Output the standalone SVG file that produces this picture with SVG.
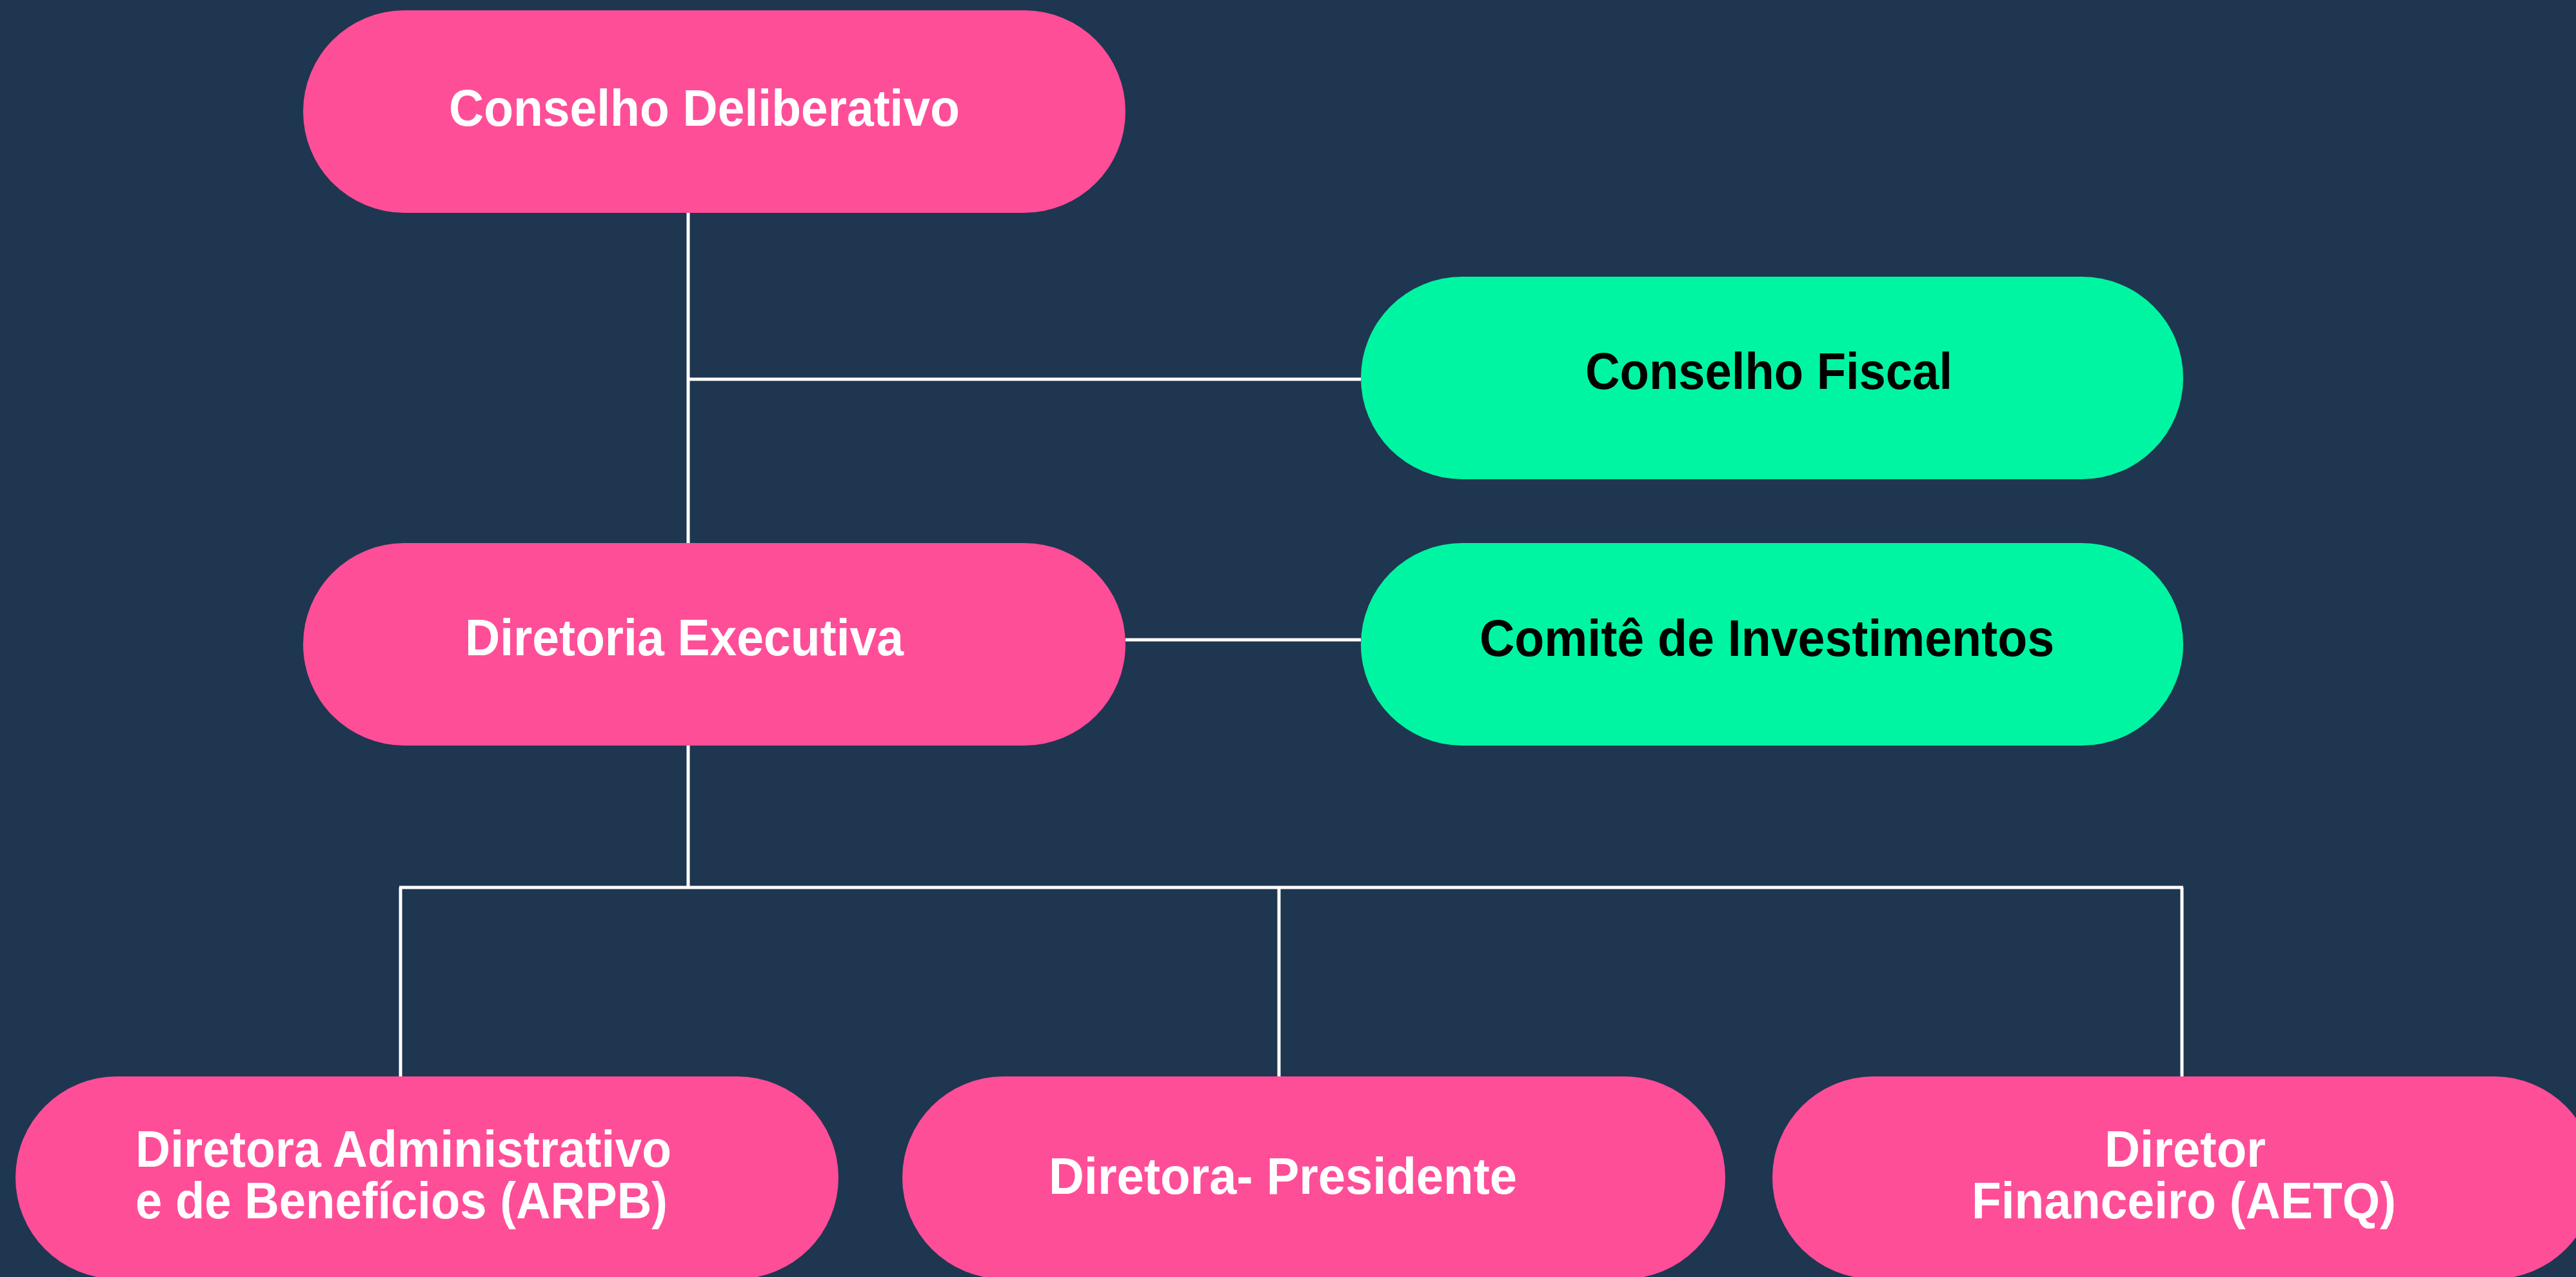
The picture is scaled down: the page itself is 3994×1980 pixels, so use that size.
<svg xmlns="http://www.w3.org/2000/svg" width="3994" height="1980" viewBox="0 0 3994 1980">
<style>
.pink{fill:#FF4E98}
.green{fill:#00F5A3}
.t{font-family:"Liberation Sans",Arial,sans-serif;font-weight:bold;font-size:80px}
.w{fill:#FFFFFF}
.k{fill:#000000}
.conn line{stroke:#FFFFFF;stroke-width:5;fill:none}
</style>
<rect x="0" y="0" width="3994" height="1980" fill="#1F3650"/>
<g id="connectors" class="conn">
<line x1="1067" y1="330" x2="1067" y2="842"/>
<line x1="1067" y1="588" x2="2110" y2="588"/>
<line x1="1745" y1="992" x2="2110" y2="992"/>
<line x1="1067" y1="1156" x2="1067" y2="1376"/>
<line x1="619" y1="1376" x2="3385" y2="1376"/>
<line x1="621" y1="1376" x2="621" y2="1669"/>
<line x1="1983" y1="1376" x2="1983" y2="1669"/>
<line x1="3383" y1="1376" x2="3383" y2="1669"/>
</g>
<g id="conselho-deliberativo">
<rect class="pink" x="470" y="16" width="1275" height="314" rx="157"/>
<text class="t w" x="696" y="195" textLength="792" lengthAdjust="spacingAndGlyphs">Conselho Deliberativo</text>
</g>
<g id="conselho-fiscal">
<rect class="green" x="2110" y="429" width="1275" height="314" rx="157"/>
<text class="t k" x="2458" y="603" textLength="569" lengthAdjust="spacingAndGlyphs">Conselho Fiscal</text>
</g>
<g id="diretoria-executiva">
<rect class="pink" x="470" y="842" width="1275" height="314" rx="157"/>
<text class="t w" x="721" y="1016" textLength="680" lengthAdjust="spacingAndGlyphs">Diretoria Executiva</text>
</g>
<g id="comite-investimentos">
<rect class="green" x="2110" y="842" width="1275" height="314" rx="157"/>
<text class="t k" x="2294" y="1017" textLength="891" lengthAdjust="spacingAndGlyphs">Comitê de Investimentos</text>
</g>
<g id="diretora-administrativo">
<rect class="pink" x="24" y="1669" width="1276" height="314" rx="157"/>
<text class="t w" x="210" y="1809" textLength="831" lengthAdjust="spacingAndGlyphs">Diretora Administrativo</text>
<text class="t w" x="210" y="1889" textLength="825" lengthAdjust="spacingAndGlyphs">e de Benefícios (ARPB)</text>
</g>
<g id="diretora-presidente">
<rect class="pink" x="1399" y="1669" width="1276" height="314" rx="157"/>
<text class="t w" x="1626" y="1851" textLength="726" lengthAdjust="spacingAndGlyphs">Diretora- Presidente</text>
</g>
<g id="diretor-financeiro">
<rect class="pink" x="2748" y="1669" width="1276" height="314" rx="157"/>
<text class="t w" x="3263" y="1809" textLength="250" lengthAdjust="spacingAndGlyphs">Diretor</text>
<text class="t w" x="3057" y="1889" textLength="658" lengthAdjust="spacingAndGlyphs">Financeiro (AETQ)</text>
</g>
</svg>
